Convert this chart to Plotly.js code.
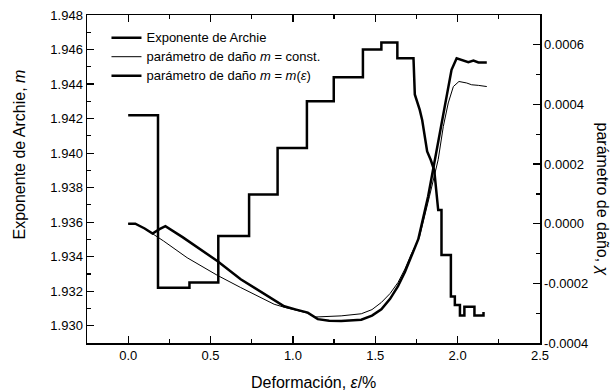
<!DOCTYPE html>
<html>
<head>
<meta charset="utf-8">
<script src="https://cdn.plot.ly/plotly-3.0.1.min.js"></script>
<style>html,body{margin:0;padding:0;background:#fff;}#chart{width:613px;height:392px;}</style>
</head>
<body>
<div id="chart"></div>
<script>
// Exponente de Archie (left axis)
const epsArchie = [0.000,0.181,0.181,0.372,0.372,0.547,0.547,0.734,0.734,0.907,0.907,1.085,1.085,1.248,1.248,1.425,1.425,1.537,1.537,1.634,1.634,1.732,1.740,1.750,1.770,1.785,1.797,1.815,1.837,1.858,1.882,1.902,1.902,1.959,1.959,1.983,1.983,2.014,2.014,2.041,2.041,2.102,2.102,2.157,2.157];
const mArchie   = [1.9422,1.9422,1.9322,1.9322,1.9325,1.9325,1.9352,1.9352,1.9376,1.9376,1.9403,1.9403,1.9430,1.9430,1.9444,1.9444,1.9460,1.9460,1.9464,1.9464,1.9455,1.9455,1.9434,1.9431,1.9425,1.9419,1.9412,1.9401,1.9396,1.9390,1.9367,1.9367,1.9341,1.9341,1.9317,1.9317,1.9312,1.9312,1.9306,1.9306,1.9311,1.9311,1.9306,1.9306,1.9308];

// parámetro de daño, m = const. (right axis)
const epsConst = [0.000,0.043,0.100,0.148,0.215,0.358,0.541,0.683,0.805,0.886,0.947,1.020,1.090,1.130,1.210,1.293,1.415,1.480,1.537,1.590,1.638,1.680,1.720,1.768,1.829,1.882,1.913,1.943,1.974,2.008,2.055,2.085,2.126,2.177];
const chiConst = [0.0000,0.0000,-0.000016,-0.000033,-0.000058,-0.000114,-0.000173,-0.000214,-0.000248,-0.000270,-0.000280,-0.000290,-0.000300,-0.000313,-0.000312,-0.000309,-0.000302,-0.000288,-0.000264,-0.000234,-0.000197,-0.000152,-0.000100,-0.000046,0.000092,0.000215,0.000326,0.000405,0.000460,0.000477,0.000472,0.000466,0.000464,0.000460];

// parámetro de daño, m = m(eps) (right axis)
const epsVar = [0.000,0.043,0.100,0.148,0.190,0.226,0.330,0.439,0.541,0.683,0.805,0.947,1.020,1.090,1.151,1.220,1.293,1.415,1.480,1.537,1.590,1.638,1.680,1.720,1.761,1.821,1.862,1.892,1.933,1.963,1.994,2.030,2.065,2.096,2.126,2.177];
const chiVar = [0.0000,0.0000,-0.000016,-0.000033,-0.000018,-0.000008,-0.000045,-0.000087,-0.000125,-0.000186,-0.000228,-0.000277,-0.000288,-0.000298,-0.000320,-0.000325,-0.000326,-0.000322,-0.000308,-0.000287,-0.000252,-0.000209,-0.000162,-0.000108,-0.000052,0.000092,0.000215,0.000304,0.000427,0.000516,0.000555,0.000548,0.000542,0.000547,0.000541,0.000541];

// right-axis tick labels
const chiTickVals = [-0.0004,-0.0002,0.0000,0.0002,0.0004,0.0006];
const chiTickText = ['-0.0004','-0.0002','0.0000','0.0002','0.0004','0.0006'];

const FONT = 'Liberation Sans, Arial, sans-serif';
const lg = s => '<span style="font-size:13px">' + s + '</span>';

const traces = [
  {x: epsArchie, y: mArchie, type: 'scatter', mode: 'lines', name: lg('Exponente de Archie'),
   line: {color: '#000', width: 2.5}, yaxis: 'y'},
  {x: epsConst, y: chiConst, type: 'scatter', mode: 'lines', name: lg('parámetro de daño <i>m</i> = const.'),
   line: {color: '#000', width: 1}, yaxis: 'y2'},
  {x: epsVar, y: chiVar, type: 'scatter', mode: 'lines', name: lg('parámetro de daño <i>m</i> = <i>m</i>(<i>ε</i>)'),
   line: {color: '#000', width: 2.5}, yaxis: 'y2'}
];

const axisCommon = {
  showline: true, linecolor: '#000', linewidth: 1.5,
  ticks: 'inside', ticklen: 7, tickwidth: 1.2, tickcolor: '#000',
  showgrid: false, zeroline: false,
  tickfont: {family: FONT, size: 13, color: '#000'}
};

const layout = {
  width: 613, height: 392,
  margin: {l: 87, r: 73, t: 15, b: 49, pad: 0},
  paper_bgcolor: '#fff', plot_bgcolor: '#fff',
  font: {family: FONT, size: 13, color: '#000'},
  showlegend: true,
  legend: {x: 0.043, y: 0.975, xanchor: 'left', yanchor: 'top', bgcolor: 'rgba(0,0,0,0)',
           font: {family: FONT, size: 11, color: '#000'}, borderwidth: 0},
  xaxis: Object.assign({}, axisCommon, {
    range: [-0.25, 2.5], tick0: 0, dtick: 0.5, tickformat: '.1f', mirror: 'ticks',
    minor: {tick0: 0, dtick: 0.25, ticks: 'inside', ticklen: 4, tickcolor: '#000', tickwidth: 1.2}
  }),
  yaxis: Object.assign({}, axisCommon, {
    range: [1.929, 1.948], tick0: 1.930, dtick: 0.002, tickformat: '.3f',
    minor: {tick0: 1.930, dtick: 0.001, ticks: 'inside', ticklen: 4, tickcolor: '#000', tickwidth: 1.2}
  }),
  yaxis2: Object.assign({}, axisCommon, {
    overlaying: 'y', side: 'right', anchor: 'x',
    range: [-0.0004, 0.0007], tickmode: 'array', tickvals: chiTickVals, ticktext: chiTickText,
    minor: {tickmode: 'linear', tick0: 0, dtick: 0.0001, ticks: 'inside', ticklen: 4, tickcolor: '#000', tickwidth: 1.2}
  }),
  annotations: [
    {text: 'Deformación, <i>ε</i>/%', xref: 'paper', yref: 'paper', x: 0.5, y: -0.12,
     xanchor: 'center', yanchor: 'middle', showarrow: false, font: {family: FONT, size: 16, color: '#000'}},
    {text: 'Exponente de Archie, <i>m</i>', xref: 'paper', yref: 'paper', x: (19 - 87) / 453, y: (343 - 154.5) / 328,
     xanchor: 'center', yanchor: 'middle', textangle: -90, showarrow: false, font: {family: FONT, size: 16, color: '#000'}},
    {text: 'parámetro de daño, <i>χ</i>', xref: 'paper', yref: 'paper', x: (602 - 87) / 453, y: (343 - 198.5) / 328,
     xanchor: 'center', yanchor: 'middle', textangle: 90, showarrow: false, font: {family: FONT, size: 16, color: '#000'}}
  ]
};

Plotly.newPlot('chart', traces, layout, {staticPlot: true, displayModeBar: false});
</script>
</body>
</html>
